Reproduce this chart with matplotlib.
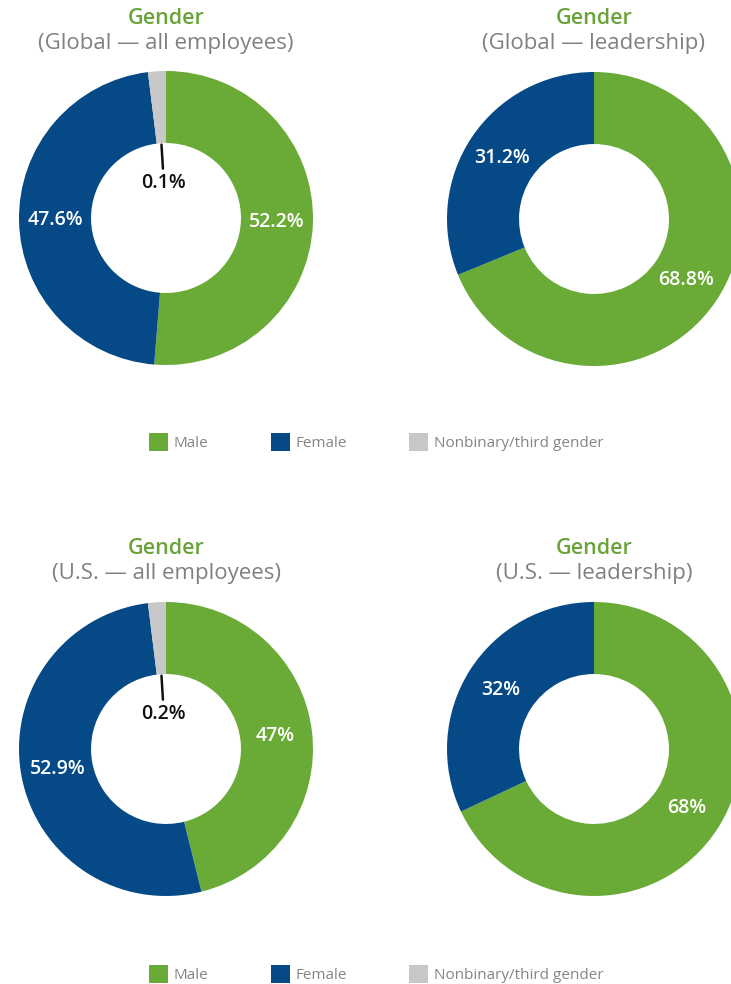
import matplotlib
matplotlib.use('Agg')
import matplotlib.pyplot as plt
import numpy as np
from matplotlib.patches import Patch

# ---------------- data ----------------
categories = ['Male', 'Female', 'Nonbinary/third gender']
colors = ['#6aaa36', '#054a87', '#c8c8c8']

panel_titles = ['Gender', 'Gender', 'Gender', 'Gender']
panel_subtitles = ['(Global — all employees)', '(Global — leadership)',
                   '(U.S. — all employees)', '(U.S. — leadership)']

global_all = [52.2, 47.6, 0.1]
global_lead = [68.8, 31.2, 0.0]
us_all = [47.0, 52.9, 0.2]
us_lead = [68.0, 32.0, 0.0]

global_all_labels = ['52.2%', '47.6%', '0.1%']
global_lead_labels = ['68.8%', '31.2%', '']
us_all_labels = ['47%', '52.9%', '0.2%']
us_lead_labels = ['68%', '32%', '']

panels_values = [global_all, global_lead, us_all, us_lead]
panels_labels = [global_all_labels, global_lead_labels, us_all_labels, us_lead_labels]

# ---------------- layout ----------------
W, H = 731, 984
FONT = 'Open Sans'
plt.rcParams['font.family'] = [FONT, 'DejaVu Sans']

fig = plt.figure(figsize=(W / 100, H / 100), dpi=100)
fig.patch.set_facecolor('white')

centers = [(166, 218), (594, 219), (166, 749), (594, 749)]
R = 147
title_y = [(18, 43), (18, 43), (549, 574), (549, 574)]
min_visible = 2.0  # tiny slices drawn at a minimum visible size

for k in range(4):
    cx, cy = centers[k]
    ax = fig.add_axes([(cx - R) / W, 1 - (cy + R) / H, 2 * R / W, 2 * R / H])
    vals = np.array(panels_values[k], dtype=float)
    disp = np.where((vals > 0) & (vals < min_visible), min_visible, vals)
    wedges, _ = ax.pie(disp, colors=colors, startangle=90, counterclock=False,
                       radius=1.0, wedgeprops=dict(width=0.49, edgecolor='none'))
    ax.set_xlim(-1, 1)
    ax.set_ylim(-1, 1)
    ax.set_aspect('auto')
    ax.axis('off')
    labs = panels_labels[k]
    for i, w in enumerate(wedges):
        lab = labs[i]
        if not lab:
            continue
        mid = np.deg2rad((w.theta1 + w.theta2) / 2)
        if i < 2:
            ax.text(0.75 * np.cos(mid), 0.75 * np.sin(mid), lab, color='white',
                    fontsize=14, fontweight='semibold', ha='center', va='center')
        else:
            ax.annotate(lab, xy=(0.50 * np.cos(mid), 0.50 * np.sin(mid)),
                        xytext=(0.24 * np.cos(mid), 0.24 * np.sin(mid)),
                        ha='center', va='center', color='#111111',
                        fontsize=14, fontweight='semibold',
                        arrowprops=dict(arrowstyle='-', color='#111111', lw=1.8,
                                        shrinkA=1, shrinkB=0))
    ty1, ty2 = title_y[k]
    fig.text(cx / W, 1 - ty1 / H, panel_titles[k], color='#6aa33a',
             fontsize=15.5, fontweight='semibold', ha='center', va='center')
    fig.text(cx / W, 1 - ty2 / H, panel_subtitles[k], color='#808080',
             fontsize=16, ha='center', va='center')

handles = [Patch(facecolor=c, edgecolor='none') for c in colors]
for ly in (442, 974):
    fig.legend(handles, categories, loc='center', ncol=3,
               bbox_to_anchor=(376 / W, 1 - ly / H), frameon=False,
               fontsize=11, labelcolor='#858585',
               handlelength=1.25, handleheight=1.4, handletextpad=0.35,
               columnspacing=4.1)

fig.savefig('out.png', dpi=100, facecolor='white')
